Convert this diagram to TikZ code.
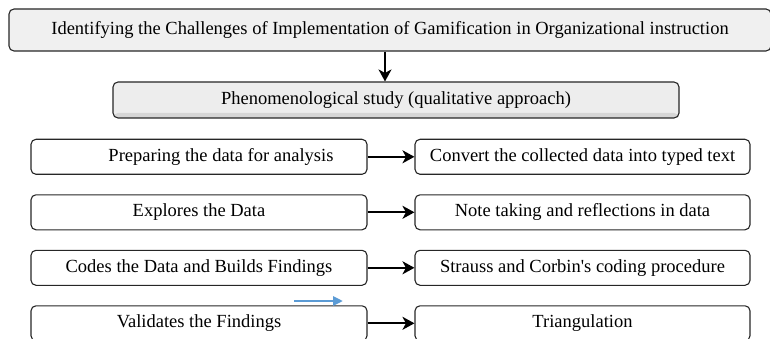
\documentclass[tikz,border=0pt]{standalone}
\usepackage{fontspec}
\setmainfont{Liberation Serif}
\usetikzlibrary{arrows.meta}
\definecolor{arrowblue}{HTML}{5B9BD5}

\begin{document}
\begin{tikzpicture}[x=1pt, y=-1pt,
    every node/.style={font=\fontsize{18.5}{21}\selectfont},
    roundbox/.style={draw=black!85, line width=1.1pt, rounded corners=5pt, inner sep=0pt},
    leftbox/.style={roundbox, minimum width=336pt, minimum height=35pt},
    rightbox/.style={roundbox, minimum width=335pt, minimum height=35pt},
    flowarrow/.style={-{Stealth[length=12pt, width=13pt, inset=3.5pt]}, line width=2pt}]
    \useasboundingbox (0,0) rectangle (770,339);

    % draw title and study boxes
    \node[roundbox, fill=black!6, minimum width=762pt, minimum height=42pt] (top) at (390,30)
        {Identifying the Challenges of Implementation of Gamification in Organizational instruction};
    \node[roundbox, fill=black!7, minimum width=566pt, minimum height=36pt,
        path picture={\fill[black!16] (path picture bounding box.south west) rectangle ([yshift=5pt]path picture bounding box.south east);}] (phen) at (396,100)
        {Phenomenological study (qualitative approach)};
    \coordinate (arrowx) at (385,0);
    \draw[flowarrow] (top.south -| arrowx) -- (phen.north -| arrowx);

    % draw steps and arrows
    \foreach \i/\ltxt/\rtxt in {1/{\hspace*{44pt}Preparing the data for analysis}/{Convert the collected data into typed text},
                                2/{Explores the Data}/{Note taking and reflections in data},
                                3/{Codes the Data and Builds Findings}/{Strauss and Corbin\textquotesingle s coding procedure},
                                4/{Validates the Findings}/{Triangulation}}
    {
        \node[leftbox] (left\i) at (199, {156.8+55.5*(\i-1)}) {\ltxt};
        \node[rightbox] (right\i) at (582.5, {156.8+55.5*(\i-1)}) {\rtxt};
        \draw[flowarrow] (left\i) -- (right\i);
    }

    % stray blue arrow
    \coordinate (bluestart) at (294,301);
    \coordinate (blueend) at (343,301);
    \draw[-{Triangle[length=10pt, width=9pt]}, arrowblue, line width=2.6pt] (bluestart) -- (blueend);
\end{tikzpicture}
\end{document}
